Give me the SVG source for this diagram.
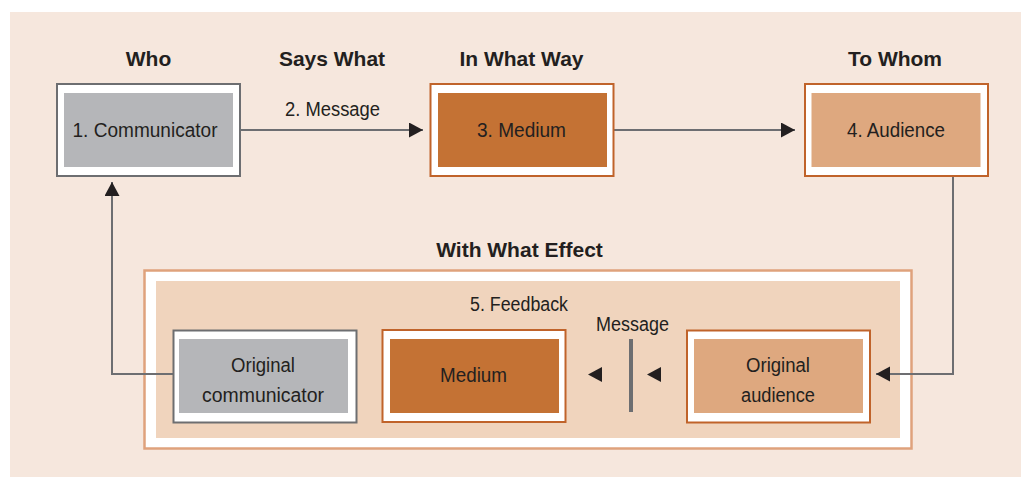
<svg xmlns="http://www.w3.org/2000/svg" width="1021" height="477" viewBox="0 0 1021 477">
  <defs>
    <style>
      .title { font-family: "Liberation Sans", Arial, sans-serif; font-weight: bold; font-size: 21px; fill: #231f20; text-anchor: middle; }
      .lbl { font-family: "Liberation Sans", Arial, sans-serif; font-size: 20px; fill: #231f20; text-anchor: middle; }
      .gray-out { fill: #ffffff; stroke: #6d6e71; stroke-width: 2; }
      .org-out { fill: #ffffff; stroke: #c0632a; stroke-width: 2; }
      .gray-in { fill: #b5b6b9; }
      .dark-in { fill: #c47234; }
      .light-in { fill: #dea87f; }
      .conn { fill: none; stroke: #6d6e71; stroke-width: 2; }
      .head { fill: #231f20; }
    </style>
    <marker id="arrow" markerUnits="userSpaceOnUse" markerWidth="16" markerHeight="16" refX="14" refY="7.5" orient="auto" viewBox="0 0 16 16">
      <path d="M0,0 L14,7.5 L0,15 Z" fill="#231f20"/>
    </marker>
  </defs>

  <rect x="10" y="12" width="1011" height="465" fill="#f6e7dd"/>

  <g id="titles">
    <text class="title" x="148.5" y="66">Who</text>
    <text class="title" x="332" y="66">Says What</text>
    <text class="title" x="521.5" y="66">In What Way</text>
    <text class="title" x="895" y="66">To Whom</text>
    <text class="title" x="519.5" y="257">With What Effect</text>
  </g>

  <g id="feedback-panel">
    <rect x="144.5" y="270.5" width="767" height="178" fill="#ffffff" stroke="#dfa27c" stroke-width="2.5"/>
    <rect x="156" y="281" width="744" height="157" fill="#f0d4bd"/>
    <text class="lbl" x="519" y="311" textLength="98" lengthAdjust="spacingAndGlyphs">5. Feedback</text>
  </g>

  <g id="connectors">
    <path class="conn" d="M240,130 H423" marker-end="url(#arrow)"/>
    <path class="conn" d="M614,130 H795" marker-end="url(#arrow)"/>
    <path class="conn" d="M953,176 V374 H876" marker-end="url(#arrow)"/>
    <path class="conn" d="M173,374 H112 V182" marker-end="url(#arrow)"/>
    <text class="lbl" x="332.5" y="116" textLength="95" lengthAdjust="spacingAndGlyphs">2. Message</text>
  </g>

  <g id="communicator">
    <rect class="gray-out" x="57" y="84" width="183" height="92"/>
    <rect class="gray-in" x="64" y="93" width="169" height="74"/>
    <text class="lbl" x="145" y="137" textLength="145" lengthAdjust="spacingAndGlyphs">1. Communicator</text>
  </g>

  <g id="medium">
    <rect class="org-out" x="430.5" y="84" width="183" height="92"/>
    <rect class="dark-in" x="438" y="93" width="169" height="74"/>
    <text class="lbl" x="521.5" y="137" textLength="89" lengthAdjust="spacingAndGlyphs">3. Medium</text>
  </g>

  <g id="audience">
    <rect class="org-out" x="805" y="84" width="183" height="92"/>
    <rect class="light-in" x="811.5" y="93" width="169" height="74"/>
    <text class="lbl" x="896" y="137" textLength="98" lengthAdjust="spacingAndGlyphs">4. Audience</text>
  </g>

  <g id="original-communicator">
    <rect class="gray-out" x="173.5" y="330.5" width="183" height="92"/>
    <rect class="gray-in" x="179" y="339" width="169" height="74"/>
    <text class="lbl" x="263" y="372" textLength="64" lengthAdjust="spacingAndGlyphs">Original</text>
    <text class="lbl" x="263" y="402" textLength="122" lengthAdjust="spacingAndGlyphs">communicator</text>
  </g>

  <g id="feedback-medium">
    <rect class="org-out" x="382.5" y="330" width="183" height="92"/>
    <rect class="dark-in" x="390" y="339" width="169" height="74"/>
    <text class="lbl" x="473.5" y="382" textLength="67" lengthAdjust="spacingAndGlyphs">Medium</text>
  </g>

  <g id="feedback-message">
    <text class="lbl" x="632.5" y="331" textLength="73" lengthAdjust="spacingAndGlyphs">Message</text>
    <polygon class="head" points="602,367 588,374.5 602,382"/>
    <rect x="629" y="339" width="4" height="73" fill="#6d6e71"/>
    <polygon class="head" points="661,367 647,374.5 661,382"/>
  </g>

  <g id="original-audience">
    <rect class="org-out" x="687" y="330.5" width="183" height="92"/>
    <rect class="light-in" x="694" y="339" width="169" height="74"/>
    <text class="lbl" x="778" y="372" textLength="64" lengthAdjust="spacingAndGlyphs">Original</text>
    <text class="lbl" x="778" y="402" textLength="74" lengthAdjust="spacingAndGlyphs">audience</text>
  </g>
</svg>
